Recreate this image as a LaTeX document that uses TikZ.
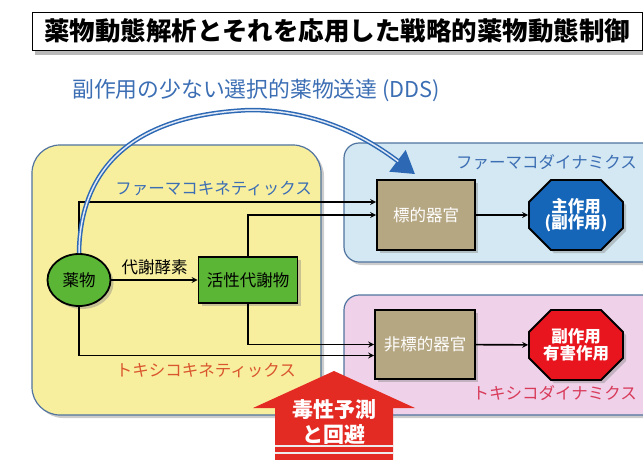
\documentclass[tikz,border=0pt]{standalone}
\usepackage{fontspec}
\setmainfont{Noto Sans CJK JP}
\usepackage{xcolor}
\usepackage{tikz}
\usetikzlibrary{shapes,arrows,arrows.meta,positioning,shadows}

\definecolor{pkyellow}{HTML}{F8EF9E}
\definecolor{pdblue}{HTML}{D3E8F2}
\definecolor{tdpink}{HTML}{EFD2E9}
\definecolor{frameblue}{HTML}{50739F}
\definecolor{labelblue}{HTML}{3C6EB4}
\definecolor{labelorange}{HTML}{D9552E}
\definecolor{labelpink}{HTML}{D83A5A}
\definecolor{drugreen}{HTML}{5BB636}
\definecolor{organtan}{HTML}{B6A783}
\definecolor{effectblue}{HTML}{1565B8}
\definecolor{effectred}{HTML}{E8141E}
\definecolor{ddsblue}{HTML}{2C68B4}
\definecolor{warnred}{HTML}{E32B24}

\newcommand{\jpsize}[1]{\fontsize{#1}{#1}\selectfont}

\begin{document}
\begin{tikzpicture}[
    x=1pt, y=-1pt,
    shade/.style={drop shadow={shadow xshift=3pt, shadow yshift=-3pt, opacity=0.4}},
    panel/.style={rectangle, draw=frameblue, line width=1.2pt, shade},
    box/.style={rectangle, draw, line width=1.8pt, font=\jpsize{16.5}, shade},
    organ/.style={box, fill=organtan, text=white, minimum width=98pt, minimum height=70pt},
    effect/.style={chamfered rectangle, chamfered rectangle xsep=12pt, chamfered rectangle ysep=10pt,
        draw, line width=1.8pt, minimum width=94pt, minimum height=70pt, inner sep=1pt,
        text=white, align=center, font=\bfseries\jpsize{16.5}, shade},
    arrow/.style={->, >=stealth, line width=1.6pt},
    lbl/.style={font=\jpsize{16.5}, inner sep=0pt}
]
    \useasboundingbox (0,0) rectangle (643,459);

    \node[draw, line width=1pt, fill=white, anchor=west, minimum height=38pt, minimum width=609pt,
        inner xsep=12pt, font=\bfseries\jpsize{25.5},
        drop shadow={shadow xshift=2pt, shadow yshift=-5pt, opacity=0.55}] (title) at (32,31)
        {薬物動態解析とそれを応用した戦略的薬物動態制御};

    \node[panel, fill=pkyellow, minimum width=289pt, minimum height=270pt, rounded corners=28pt] (pk) at (176.5,280) {};
    \node[panel, fill=pdblue, minimum width=316pt, minimum height=119pt, rounded corners=15pt] (pd) at (502,202.5) {};
    \node[panel, fill=tdpink, minimum width=316pt, minimum height=120pt, rounded corners=15pt] (td) at (502,355) {};

    \node[font=\jpsize{21.8}, text=labelblue, anchor=west, inner sep=0pt] (ddsname) at (72,90) {副作用の少ない選択的薬物送達 (DDS)};
    \node[lbl, text=labelblue, anchor=east] (pkname) at (312,188) {ファーマコキネティックス};
    \node[lbl, text=labelorange, anchor=east] (tkname) at (296,370) {トキシコキネティックス};
    \node[lbl, text=labelblue, anchor=east] (pdname) at (637,162) {ファーマコダイナミクス};
    \node[lbl, text=labelpink, anchor=east] (tdname) at (637,393) {トキシコダイナミクス};

    \node[ellipse, draw, line width=1.8pt, fill=drugreen, minimum width=63pt, minimum height=52pt,
        inner sep=0pt, font=\jpsize{16.5}, shade] (drug) at (79,280) {薬物};
    \node[box, fill=drugreen, minimum width=99pt, minimum height=46pt] (met) at (248,280) {活性代謝物};
    \node[organ] (target) at (426,215) {標的器官};
    \node[organ, minimum width=100pt, minimum height=69pt] (nontarget) at (425,344.5) {非標的器官};
    \node[effect, fill=effectblue] (main) at (576,215) {主作用\\(副作用)};
    \node[effect, fill=effectred] (adverse) at (576,345) {副作用\\有害作用};

    \draw[arrow] (drug) -- node[lbl, above=4pt] (enzyme) {代謝酵素} (met);
    \draw[arrow] (drug.north) |- ([yshift=13pt]target.west);
    \draw[arrow] (met.north) |- (target.west);
    \draw[arrow] (met.south) |- (nontarget.west);
    \draw[arrow] (drug.south) |- ([yshift=-11pt]nontarget.west);
    \draw[arrow] (target) -- (main);
    \draw[arrow] (nontarget) -- (adverse);

    \draw[ddsblue, line width=4.5pt, -{Triangle[length=22pt,width=26pt]}]
        (drug.north) .. controls (80,170) and (130,115) .. (250,110)
        .. controls (320,110) and (370,140) .. ([xshift=-11pt,yshift=5pt]target.north);
    \draw[white!85!ddsblue, line width=1.5pt, shorten >=21pt]
        (drug.north) .. controls (80,170) and (130,115) .. (250,110)
        .. controls (320,110) and (370,140) .. ([xshift=-11pt,yshift=5pt]target.north);

    \fill[warnred] (275,470) -- (275,408) -- (253,408) -- (334,371) -- (415,408) -- (393,408) -- (393,470) -- cycle;
    \draw[white!85!gray, line width=1.5pt] (275,446) -- (393,446) (275,453) -- (393,453);
    \node[text=white, align=center, font=\bfseries\jpsize{21}, inner sep=0pt] (warn) at (334,422)
        {毒性予測\\[4pt]と回避};
\end{tikzpicture}
\end{document}
